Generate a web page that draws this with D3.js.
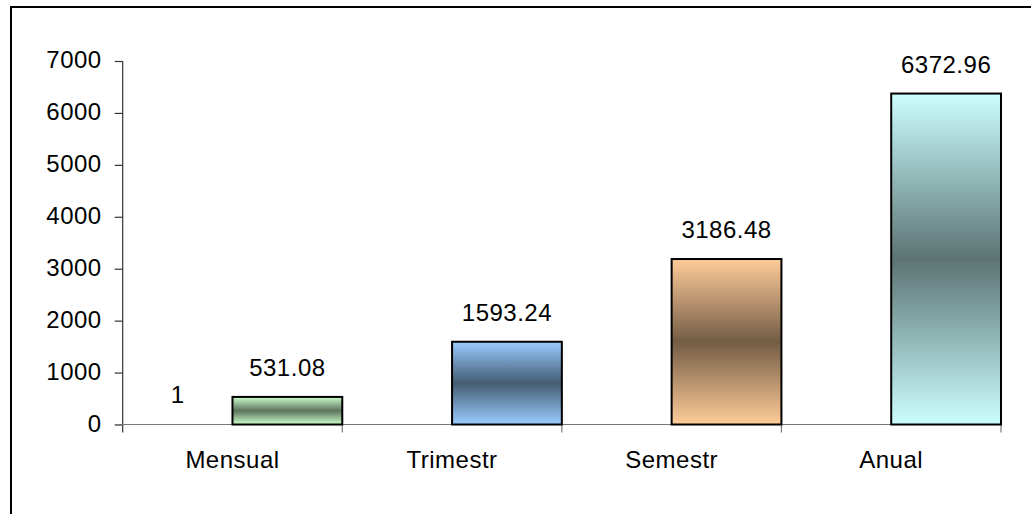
<!DOCTYPE html>
<html>
<head>
<meta charset="utf-8">
<script src="https://cdn.jsdelivr.net/npm/d3@7"></script>
<style>
  html, body { margin: 0; padding: 0; background: #fff; }
  svg { display: block; }
  text { font-family: "Liberation Sans", Arial, sans-serif; fill: #000; letter-spacing: 0.5px; }
</style>
</head>
<body>
<div id="chart"></div>
<script>
const categories = ["Mensual", "Trimestr", "Semestr", "Anual"];
const seriesA = [1, null, null, null];
const seriesB = [531.08, 1593.24, 3186.48, 6372.96];
const yTicks = [0, 1000, 2000, 3000, 4000, 5000, 6000, 7000];
const lightColors = ["#CCFFCC", "#99CCFF", "#FFCC99", "#CCFFFF"];
const darkColors = ["#5C735C", "#455C73", "#735C45", "#5C7373"];

const W = 1031, H = 514;
const svg = d3.select("#chart").append("svg").attr("width", W).attr("height", H);

// outer chart border (only top & left visible)
svg.append("rect").attr("x", 11).attr("y", 7).attr("width", 1200).attr("height", 800)
  .attr("fill", "#fff").attr("stroke", "#000").attr("stroke-width", 2);

const x = d3.scaleBand().domain(categories).range([122.7, 1001]).paddingInner(0).paddingOuter(0);
const xs = d3.scaleBand().domain([0, 1]).range([0, x.bandwidth()]).padding(0);
const y = d3.scaleLinear().domain([0, 7000]).range([424.5, 61]);

const defs = svg.append("defs");
categories.forEach((c, i) => {
  const g = defs.append("linearGradient").attr("id", "grad" + i)
    .attr("x1", 0).attr("y1", 0).attr("x2", 0).attr("y2", 1);
  g.append("stop").attr("offset", "0%").attr("stop-color", lightColors[i]);
  g.append("stop").attr("offset", "50%").attr("stop-color", darkColors[i]);
  g.append("stop").attr("offset", "100%").attr("stop-color", lightColors[i]);
});

// Y axis
const yAxis = svg.append("g").attr("transform", "translate(122.7,0)")
  .call(d3.axisLeft(y).tickValues(yTicks).tickSize(8).tickSizeOuter(0).tickFormat(d3.format("d")));
yAxis.select(".domain").remove();
yAxis.selectAll(".tick line").attr("stroke", "#333").attr("stroke-width", 1.2);
yAxis.selectAll(".tick text").attr("x", -21).attr("dy", "6.5").attr("font-size", 24)
  .attr("font-family", "'Liberation Sans', Arial, sans-serif").attr("fill", "#000");
svg.append("line").attr("x1", 122.7).attr("x2", 122.7).attr("y1", y(7000)).attr("y2", 432.5)
  .attr("stroke", "#333").attr("stroke-width", 1.2);

// X axis line and tick marks at category boundaries
svg.append("line").attr("x1", 115).attr("x2", 1001).attr("y1", y(0)).attr("y2", y(0))
  .attr("stroke", "#777").attr("stroke-width", 1.2);
svg.selectAll(".xtick").data(categories).enter().append("line")
  .attr("class", "xtick")
  .attr("x1", d => x(d) + x.bandwidth()).attr("x2", d => x(d) + x.bandwidth())
  .attr("y1", y(0)).attr("y2", 432.5)
  .attr("stroke", "#777").attr("stroke-width", 1.2);

// Category labels
svg.selectAll(".xlab").data(categories).enter().append("text")
  .attr("class", "xlab")
  .attr("x", d => x(d) + x.bandwidth() / 2).attr("y", 468)
  .attr("text-anchor", "middle").attr("font-size", 24).text(d => d);

// Series B bars
svg.selectAll(".barB").data(seriesB).enter().append("rect")
  .attr("class", "barB")
  .attr("x", (d, i) => x(categories[i]) + xs(1))
  .attr("width", xs.bandwidth())
  .attr("y", d => y(d)).attr("height", d => y(0) - y(d))
  .attr("fill", (d, i) => "url(#grad" + i + ")")
  .attr("stroke", "#000").attr("stroke-width", 2);

// Series A bars (tiny)
const aData = seriesA.map((v, i) => ({v, i})).filter(d => d.v != null);
svg.selectAll(".barA").data(aData).enter().append("rect")
  .attr("class", "barA")
  .attr("x", d => x(categories[d.i]) + xs(0))
  .attr("width", xs.bandwidth())
  .attr("y", d => y(d.v)).attr("height", d => y(0) - y(d.v))
  .attr("fill", "#9999FF");

// Value labels
svg.selectAll(".labB").data(seriesB).enter().append("text")
  .attr("class", "labB")
  .attr("x", (d, i) => x(categories[i]) + xs(1) + xs.bandwidth() / 2)
  .attr("y", d => y(d) - 21)
  .attr("text-anchor", "middle").attr("font-size", 24).text(d => d3.format(".2f")(d));
svg.selectAll(".labA").data(aData).enter().append("text")
  .attr("class", "labA")
  .attr("x", d => x(categories[d.i]) + xs(0) + xs.bandwidth() / 2)
  .attr("y", d => y(d.v) - 21)
  .attr("text-anchor", "middle").attr("font-size", 24).text(d => d.v);
</script>
</body>
</html>
